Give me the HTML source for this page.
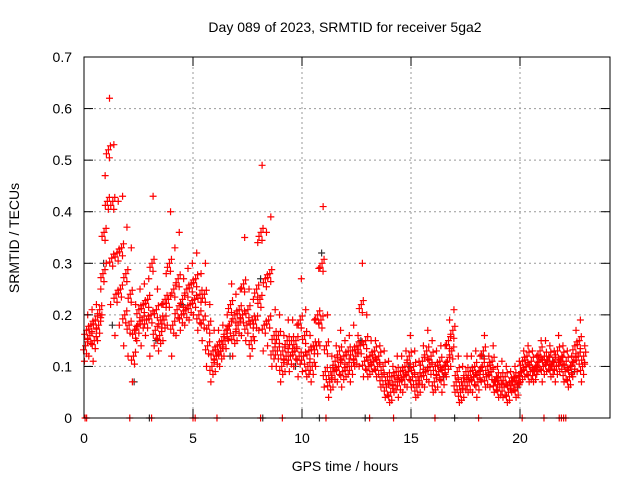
<!DOCTYPE html>
<html><head><meta charset="utf-8"><style>
html,body{margin:0;padding:0;background:#fff;}
svg{display:block;font-family:"Liberation Sans",sans-serif;}
</style></head><body>
<svg id="chart" width="640" height="480" viewBox="0 0 640 480">
<rect width="640" height="480" fill="#fff"/>
<text x="345" y="32" font-size="14" text-anchor="middle">Day 089 of 2023, SRMTID for receiver 5ga2</text>
<text x="345" y="471" font-size="14" text-anchor="middle">GPS time / hours</text>
<text transform="translate(19,238) rotate(-90)" font-size="14" text-anchor="middle">SRMTID / TECUs</text>
<g id="grid"></g>
<g id="marks"></g>
<rect x="84" y="57" width="526" height="361" fill="none" stroke="#000" stroke-width="1"/>
<g id="axes"></g>
</svg>
<script>
const xTicks=[0,5,10,15,20];
const yTicks=[0,0.1,0.2,0.3,0.4,0.5,0.6,0.7];
const yTickLabels=["0","0.1","0.2","0.3","0.4","0.5","0.6","0.7"];
const slotStart=0, slotStep=0.2;
const redLo=[0.11,0.12,0.11,0.15,0.20,0.30,0.22,0.16,0.18,0.14,0.12,0.07,0.15,0.14,0.16,0.12,0.14,0.13,0.15,0.18,0.12,0.16,0.17,0.18,0.19,0.20,0.17,0.15,0.10,0.07,0.09,0.10,0.12,0.15,0.12,0.15,0.16,0.15,0.12,0.15,0.17,0.13,0.14,0.10,0.10,0.07,0.09,0.09,0.10,0.08,0.09,0.08,0.07,0.10,0.14,0.06,0.04,0.06,0.07,0.06,0.08,0.07,0.10,0.10,0.08,0.08,0.09,0.08,0.06,0.04,0.03,0.05,0.04,0.05,0.06,0.06,0.04,0.05,0.06,0.07,0.05,0.06,0.05,0.08,0.10,0.05,0.03,0.04,0.05,0.05,0.04,0.07,0.06,0.06,0.05,0.04,0.04,0.03,0.05,0.04,0.07,0.08,0.07,0.07,0.09,0.07,0.09,0.08,0.07,0.09,0.07,0.06,0.08,0.09,0.07];
const redM1=[0.14,0.16,0.15,0.18,0.28,0.42,0.31,0.24,0.25,0.20,0.18,0.12,0.18,0.19,0.19,0.20,0.17,0.16,0.19,0.23,0.18,0.21,0.20,0.21,0.22,0.23,0.20,0.19,0.14,0.10,0.12,0.13,0.15,0.18,0.16,0.18,0.20,0.18,0.15,0.19,0.23,0.18,0.19,0.13,0.13,0.10,0.12,0.12,0.13,0.12,0.12,0.10,0.10,0.14,0.19,0.09,0.07,0.09,0.10,0.09,0.10,0.10,0.12,0.14,0.11,0.10,0.11,0.10,0.08,0.06,0.05,0.07,0.07,0.08,0.09,0.08,0.06,0.08,0.09,0.10,0.07,0.09,0.08,0.11,0.13,0.07,0.05,0.07,0.07,0.08,0.07,0.10,0.08,0.09,0.07,0.06,0.06,0.05,0.07,0.06,0.09,0.10,0.09,0.09,0.11,0.10,0.11,0.10,0.10,0.11,0.09,0.08,0.11,0.12,0.10];
const redM2=[0.17,0.18,0.19,0.21,0.36,0.52,0.42,0.32,0.33,0.28,0.24,0.17,0.21,0.22,0.23,0.30,0.21,0.19,0.23,0.30,0.25,0.27,0.23,0.25,0.26,0.27,0.24,0.24,0.18,0.13,0.14,0.15,0.17,0.22,0.20,0.21,0.26,0.21,0.19,0.25,0.36,0.27,0.28,0.16,0.16,0.13,0.15,0.15,0.15,0.19,0.16,0.13,0.14,0.20,0.30,0.14,0.09,0.11,0.13,0.12,0.13,0.13,0.14,0.22,0.15,0.12,0.13,0.12,0.10,0.08,0.08,0.09,0.09,0.10,0.12,0.10,0.08,0.11,0.13,0.12,0.10,0.11,0.10,0.15,0.17,0.09,0.07,0.09,0.09,0.10,0.09,0.13,0.10,0.11,0.08,0.08,0.08,0.07,0.08,0.08,0.11,0.12,0.11,0.10,0.13,0.12,0.12,0.11,0.13,0.12,0.11,0.10,0.14,0.15,0.12];
const redHi=[0.20,0.21,0.22,0.25,0.47,0.62,0.53,0.42,0.43,0.37,0.33,0.22,0.25,0.26,0.27,0.43,0.25,0.22,0.28,0.40,0.33,0.36,0.27,0.29,0.30,0.32,0.28,0.30,0.22,0.17,0.17,0.18,0.20,0.26,0.24,0.25,0.35,0.25,0.23,0.34,0.49,0.36,0.39,0.21,0.20,0.16,0.19,0.19,0.18,0.27,0.21,0.16,0.19,0.29,0.41,0.20,0.12,0.14,0.17,0.15,0.16,0.18,0.16,0.30,0.20,0.15,0.15,0.14,0.13,0.11,0.10,0.12,0.12,0.13,0.16,0.13,0.11,0.14,0.17,0.15,0.13,0.14,0.14,0.19,0.21,0.12,0.10,0.12,0.12,0.13,0.12,0.16,0.12,0.14,0.10,0.11,0.10,0.09,0.10,0.11,0.13,0.14,0.13,0.12,0.15,0.15,0.14,0.13,0.16,0.14,0.13,0.12,0.17,0.19,0.14];
const grayTimes=[0.9,1.3,2.3,3.3,4.5,6.7,8.1,9.7,10.9,12.7,14.9,16.5,18.3,19.9,21.5,22.5];
const grayValues=[0.30,0.18,0.07,0.15,0.22,0.12,0.27,0.10,0.32,0.15,0.10,0.08,0.12,0.06,0.11,0.09];
const zeroRedTimes=[0.05,0.12,2.1,3.1,5.0,5.1,6.1,8.1,9.1,11.1,13.1,14.2,16.1,18.1,20.1,21.1,21.8,21.9,22.0,22.1];
const zeroGrayTimes=[3.0,8.2,10.8,12.9,17.0];

const X0=84,PXH=21.8,Y0=418,PXU=515.7;
const NS="http://www.w3.org/2000/svg";
function xs(t){return X0+t*PXH;}
function ys(v){return Y0-v*PXU;}
const grid=document.getElementById('grid'),axes=document.getElementById('axes'),marks=document.getElementById('marks');
function mk(tag,attrs,parent){const e=document.createElementNS(NS,tag);for(const k in attrs)e.setAttribute(k,attrs[k]);parent.appendChild(e);return e;}
xTicks.forEach(t=>{const x=xs(t);
 if(t>0){const g=mk('line',{x1:x,x2:x,y1:57,y2:418,stroke:'#999','stroke-dasharray':'2,3'},grid);
 
 }
 const a=mk('line',{x1:x,x2:x,y1:418,y2:409,stroke:'#000'},axes);
 
 
 const b=mk('line',{x1:x,x2:x,y1:57,y2:66,stroke:'#000'},axes);
 
 
 const l=mk('text',{x:x,y:443,'font-size':14,'text-anchor':'middle'},axes);l.textContent=String(t);
 
 
});
yTicks.forEach((v,i)=>{const y=ys(v);
 if(v>0&&v<0.7){const g=mk('line',{x1:84,x2:610,y1:y,y2:y,stroke:'#999','stroke-dasharray':'2,3'},grid);
 
 }
 const a=mk('line',{x1:84,x2:93,y1:y,y2:y,stroke:'#000'},axes);
 
 
 const b=mk('line',{x1:601,x2:610,y1:y,y2:y,stroke:'#000'},axes);
 
 
 const l=mk('text',{x:72,y:y+5,'font-size':14,'text-anchor':'end'},axes);l.textContent=yTickLabels[i];
 
 
});
// each datum drawn as a small cluster glyph of crosses (dense-scatter appearance)
function glyph(x,y){return `M${x-3.5},${y}H${x+3.5}M${x},${y-3.5}V${y+3.5}`;}
function cross(t,v,color,name,cluster){const x=xs(t),y=ys(v);
 let d=glyph(x,y);
 if(cluster){d+=glyph(x-2,y+4)+glyph(x+2,y-4)+glyph(x+1,y+8);}
 const p=mk('path',{d:d,stroke:color,'stroke-width':1.2,fill:'none'},marks);
 
 }
grayTimes.forEach((t,i)=>cross(t,grayValues[i],'#333','gray-point',false));
zeroGrayTimes.forEach(t=>cross(t,0,'#333','gray-zero-point',false));
const series=[redLo,redM1,redM2,redHi],offs=[0.02,0.07,0.12,0.17];
series.forEach((arr,k)=>arr.forEach((v,i)=>cross(slotStart+i*slotStep+offs[k],v,'#ff0000','red-point',k===1||k===2)));
zeroRedTimes.forEach(t=>cross(t,0,'#ff0000','red-zero-point',false));
</script>
</body></html>
